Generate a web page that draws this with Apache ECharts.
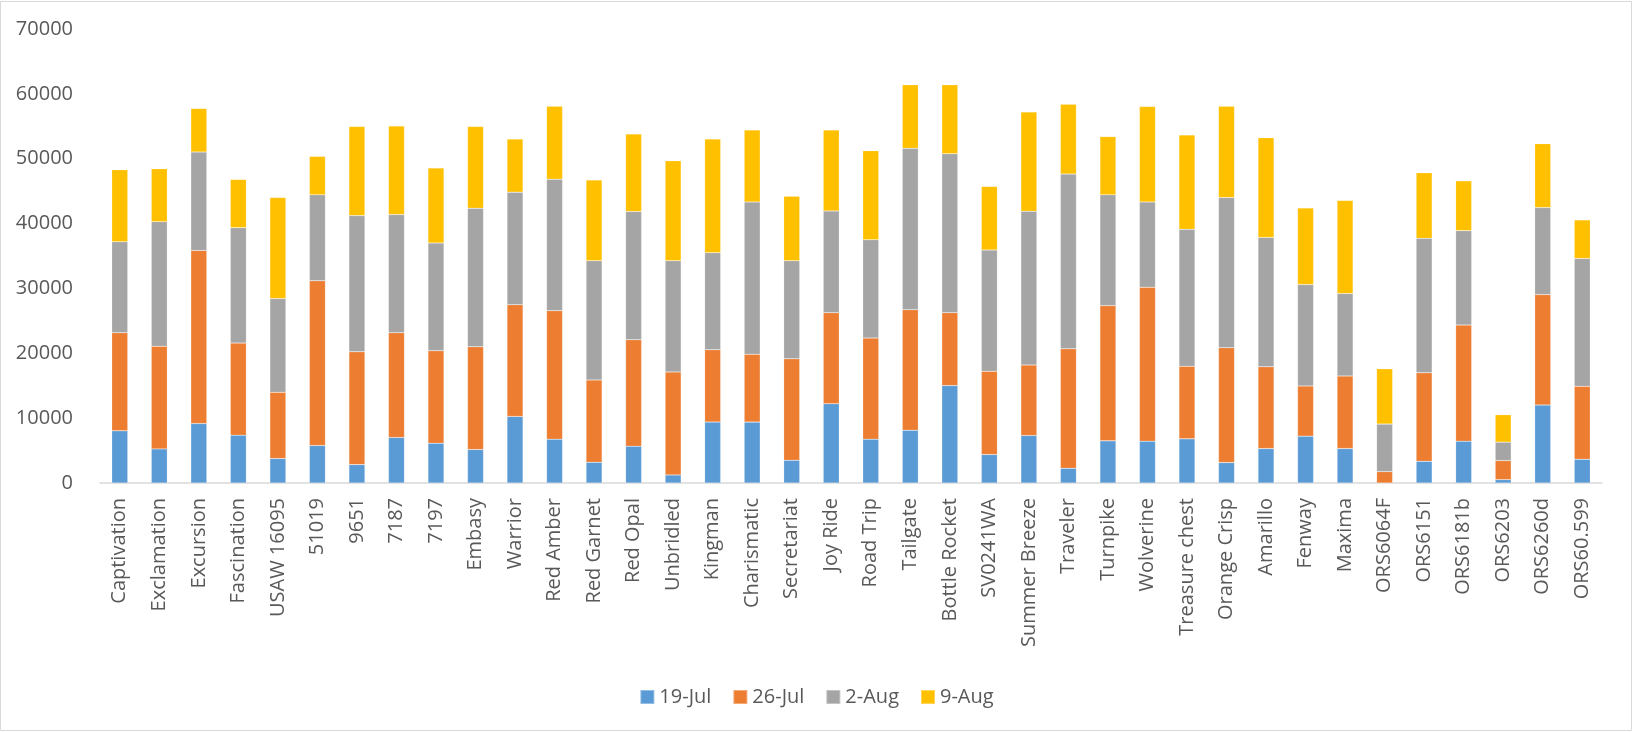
<!DOCTYPE html>
<html>
<head>
<meta charset="utf-8">
<script src="https://cdn.jsdelivr.net/npm/echarts@6/dist/echarts.min.js"></script>
<style>
html,body{margin:0;padding:0;background:#fff;}
#chart{width:1633px;height:732px;}
</style>
</head>
<body>
<div id="chart"></div>
<script>
var categories = ["Captivation","Exclamation","Excursion","Fascination","USAW 16095","51019","9651","7187","7197","Embasy","Warrior","Red Amber","Red Garnet","Red Opal","Unbridled","Kingman","Charismatic","Secretariat","Joy Ride","Road Trip","Tailgate","Bottle Rocket","SV0241WA","Summer Breeze","Traveler","Turnpike","Wolverine","Treasure chest","Orange Crisp","Amarillo","Fenway","Maxima","ORS6064F","ORS6151","ORS6181b","ORS6203","ORS6260d","ORS60.599"];
var seriesNames = ["19-Jul","26-Jul","2-Aug","9-Aug"];
var jul19 = [8050,5260,9180,7380,3770,5780,2840,7020,6140,5160,10270,6760,3200,5680,1240,9390,9390,3510,12230,6760,8150,15020,4390,7330,2270,6500,6450,6810,3150,5310,7220,5310,0,3350,6450,520,12020,3660];
var jul26 = [15120,15840,26680,14190,10210,25390,17390,16150,14240,15840,17230,19810,12690,16400,15890,11150,10480,15630,14030,15580,18580,11240,12840,10880,18420,20850,23740,11200,17700,12600,7740,11200,1750,13630,17900,2940,17030,11250];
var aug2 = [14030,19200,15170,17800,14450,13260,21000,18210,16620,21360,17340,20280,18370,19770,17130,14960,23470,15120,15690,15170,24870,24510,18680,23690,26940,17080,13150,21100,23160,19960,15640,12700,7330,20740,14560,2840,13420,19710];
var aug9 = [11100,8150,6710,7430,15580,5930,13720,13680,11560,12590,8200,11250,12440,11970,15430,17540,11100,9960,12490,13730,9800,10630,9810,15320,10780,8980,14710,14550,14090,15380,11810,14340,8520,10110,7680,4230,9850,5940];
var yTicks = [0,10000,20000,30000,40000,50000,60000,70000];
var colors = ["#5B9BD5","#ED7D31","#A5A5A5","#FFC000"];

var dataSets = [jul19, jul26, aug2, aug9];
var chart = echarts.init(document.getElementById('chart'), null, {renderer:'canvas'});
var font = "'Open Sans', 'Noto Sans', sans-serif";
chart.setOption({
  animation:false,
  backgroundColor:'#ffffff',
  textStyle:{fontFamily:font},
  color:colors,
  graphic:[{type:'rect',shape:{x:0.5,y:1.5,width:1631,height:729},style:{fill:'none',stroke:'#d9d9d9',lineWidth:1},silent:true}],
  grid:{left:100,right:31,top:29,bottom:249},
  legend:{
    data:seriesNames,
    left:'center',
    top:682,
    icon:'rect',
    itemWidth:14,
    itemHeight:14,
    itemGap:21,
    textStyle:{fontSize:20,color:'#595959',fontFamily:font}
  },
  xAxis:{
    type:'category',
    data:categories,
    axisLine:{lineStyle:{color:'#d9d9d9',width:1.5}},
    axisTick:{show:false},
    axisLabel:{rotate:90,interval:0,margin:15,fontSize:20,color:'#595959',fontFamily:font}
  },
  yAxis:{
    type:'value',
    min:yTicks[0],
    max:yTicks[yTicks.length-1],
    interval:yTicks[1]-yTicks[0],
    splitLine:{show:false},
    axisLine:{show:false},
    axisTick:{show:false},
    axisLabel:{margin:27,fontSize:20,color:'#595959',fontFamily:font,formatter:function(v){return String(v);}}
  },
  series:seriesNames.map(function(n,i){
    return {name:n,type:'bar',stack:'total',data:dataSets[i],barWidth:16,
      itemStyle:{color:colors[i],borderColor:'rgba(255,255,255,0.35)',borderWidth:0.5}};
  })
});
</script>
</body>
</html>
